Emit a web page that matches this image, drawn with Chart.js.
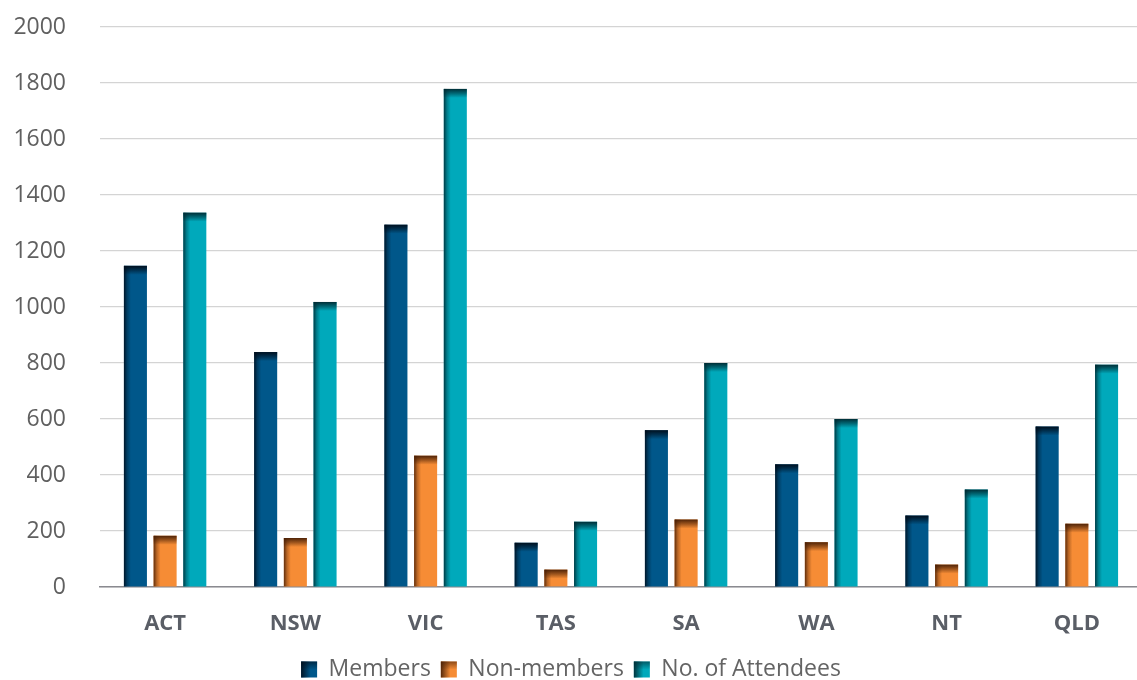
<!DOCTYPE html>
<html>
<head>
<meta charset="utf-8">
<script src="https://cdn.jsdelivr.net/npm/chart.js@4/dist/chart.umd.min.js"></script>
<style>
  html, body { margin: 0; padding: 0; background: #fff; overflow: hidden; }
  #wrap { width: 1142px; height: 680px; }
</style>
</head>
<body>
<div id="wrap"><canvas id="c" width="1142" height="680"></canvas></div>
<script>
// Regions along the x axis
const regions = ['ACT', 'NSW', 'VIC', 'TAS', 'SA', 'WA', 'NT', 'QLD'];

// Counts per region
const members    = [1147, 839, 1294, 158, 560, 438, 255, 573];
const nonMembers = [183, 175, 469, 62, 241, 160, 80, 226];
const attendees  = [1337, 1018, 1779, 233, 800, 600, 348, 794];

// Value axis ticks
const yTicks = [0, 200, 400, 600, 800, 1000, 1200, 1400, 1600, 1800, 2000];

const seriesNames = ['Members', 'Non-members', 'No. of Attendees'];
const seriesColors = ['#00578a', '#f68c35', '#00a9bb'];
const seriesEdge = ['rgba(0,12,25,', 'rgba(70,30,5,', 'rgba(0,40,48,'];

// Darkened left edge and top cap on each bar, like a bevel
const bevel = {
  id: 'bevel',
  afterDatasetDraw(chart, args) {
    const ctx = chart.ctx;
    const edge = seriesEdge[args.index];
    args.meta.data.forEach(bar => {
      const { x, y, base, width } = bar.getProps(['x', 'y', 'base', 'width'], true);
      const left = x - width / 2;
      const h = base - y;
      ctx.save();
      let g = ctx.createLinearGradient(left, 0, left + 7, 0);
      g.addColorStop(0, edge + '0.85)');
      g.addColorStop(0.45, edge + '0.35)');
      g.addColorStop(1, edge + '0)');
      ctx.fillStyle = g;
      ctx.fillRect(left, y, 7, h);
      const cap = Math.min(9, h);
      g = ctx.createLinearGradient(0, y, 0, y + cap);
      g.addColorStop(0, edge + '0.95)');
      g.addColorStop(0.5, edge + '0.5)');
      g.addColorStop(1, edge + '0)');
      ctx.fillStyle = g;
      ctx.fillRect(left, y, width, cap);
      ctx.restore();
    });
  },
  afterDraw(chart) {
    const lg = chart.legend;
    if (!lg || !lg.legendHitBoxes) return;
    const ctx = chart.ctx;
    const bw = lg.options.labels.boxWidth;
    const bh = lg.options.labels.boxHeight;
    lg.legendHitBoxes.forEach((hb, i) => {
      const edge = seriesEdge[i];
      const left = hb.left;
      const top = hb.top + (hb.height - bh) / 2;
      ctx.save();
      let g = ctx.createLinearGradient(left, 0, left + bw, 0);
      g.addColorStop(0, edge + '0.9)');
      g.addColorStop(0.6, edge + '0)');
      ctx.fillStyle = g;
      ctx.fillRect(left, top, bw, bh);
      g = ctx.createLinearGradient(0, top, 0, top + bh);
      g.addColorStop(0, edge + '0.6)');
      g.addColorStop(0.5, edge + '0)');
      ctx.fillStyle = g;
      ctx.fillRect(left, top, bw, bh);
      ctx.restore();
    });
  }
};

const seriesValues = [members, nonMembers, attendees];

new Chart(document.getElementById('c'), {
  type: 'bar',
  data: {
    labels: regions,
    datasets: seriesNames.map((name, i) => ({
      label: name,
      data: seriesValues[i],
      backgroundColor: seriesColors[i],
      borderWidth: 0,
      categoryPercentage: 0.684,
      barPercentage: 0.775
    }))
  },
  options: {
    responsive: false,
    animation: false,
    layout: { padding: { top: 27, left: 0, right: 0, bottom: -11 } },
    plugins: {
      tooltip: { enabled: false },
      legend: {
        position: 'bottom',
        labels: {
          boxWidth: 16,
          boxHeight: 16,
          padding: 10,
          color: '#646464',
          font: { family: 'Open Sans', size: 23 }
        }
      }
    },
    scales: {
      x: {
        grid: { display: false, drawTicks: false },
        border: { display: true, color: '#8a8a90', width: 1.5 },
        ticks: {
          padding: 24,
          color: '#5a5e66',
          font: { family: 'Open Sans', size: 22, weight: 'bold' }
        },
        afterFit(s) { s.height = 61; }
      },
      y: {
        min: 0,
        max: 2000,
        z: 1,
        afterBuildTicks(s) { s.ticks = yTicks.map(v => ({ value: v })); },
        grid: { color: 'rgba(0,0,0,0.17)', lineWidth: 1.2, drawTicks: false },
        border: { display: false },
        ticks: {
          padding: 34,
          color: '#606060',
          font: { family: 'Open Sans', size: 23 },
          callback: v => String(v)
        },
        afterFit(s) {
          s.width = 100;
          s.paddingTop = 14;
          s.paddingBottom = 14;
        }
      }
    }
  },
  plugins: [bevel]
});
</script>
</body>
</html>
